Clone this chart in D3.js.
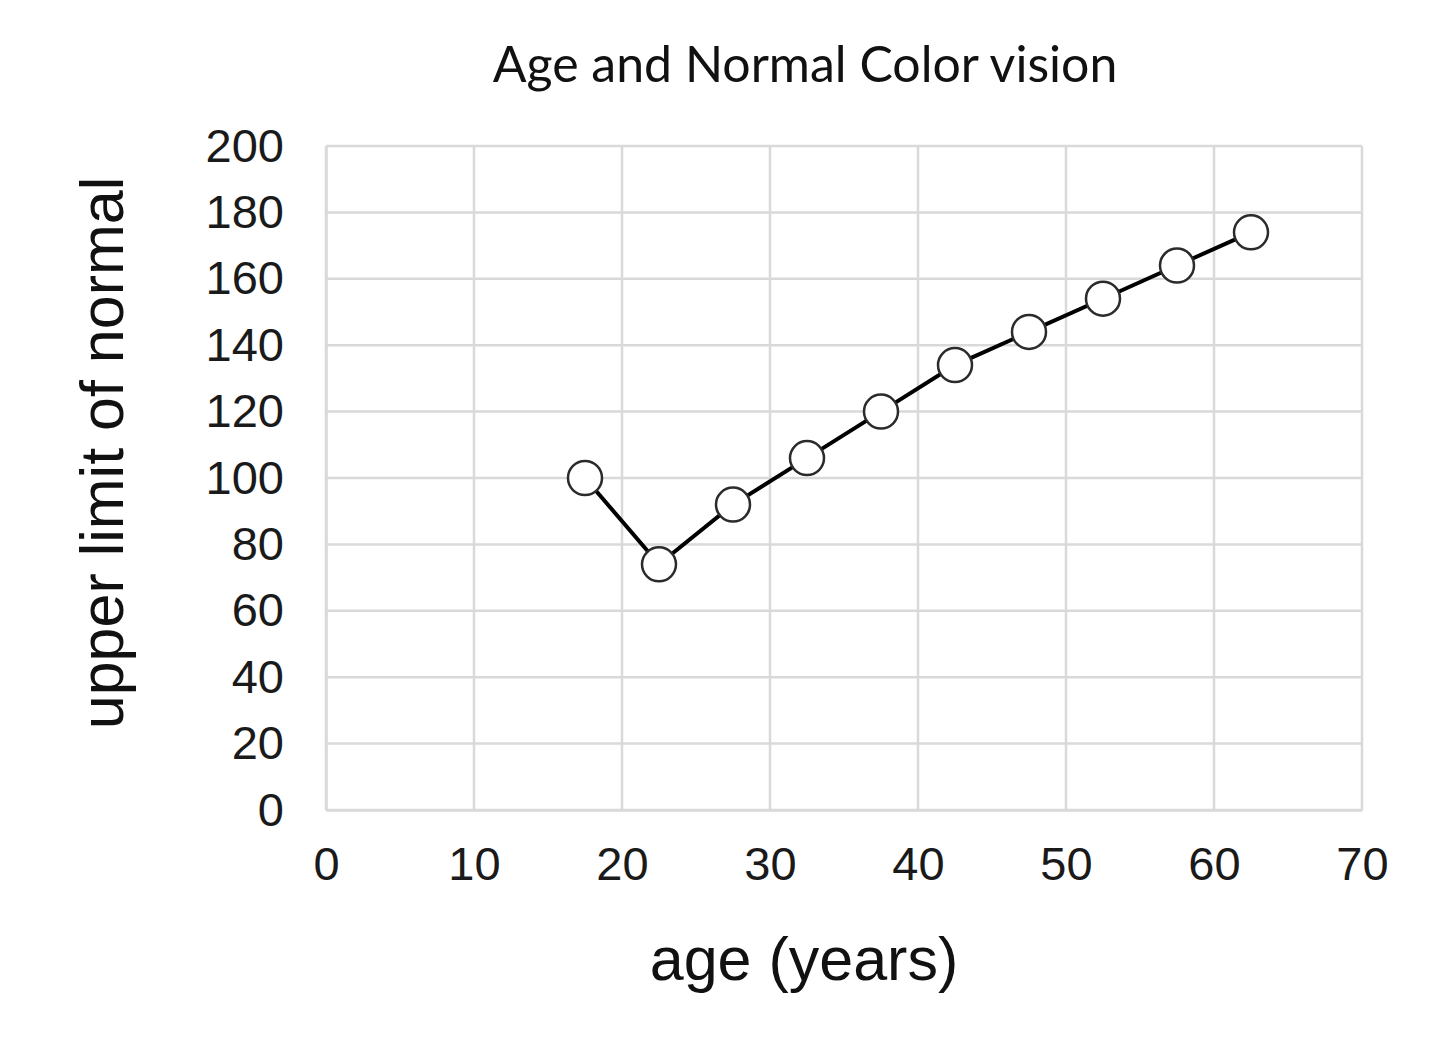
<!DOCTYPE html>
<html>
<head>
<meta charset="utf-8">
<script src="https://cdn.jsdelivr.net/npm/d3@7"></script>
<style>
  body { margin: 0; background: #fff; }
  svg { display: block; }
</style>
</head>
<body>
<svg id="chart"></svg>
<script>
const ages = [17.5, 22.5, 27.5, 32.5, 37.5, 42.5, 47.5, 52.5, 57.5, 62.5];
const upperLimit = [100, 74, 92, 106, 120, 134, 144, 154, 164, 174];
const xTicks = [0, 10, 20, 30, 40, 50, 60, 70];
const yTicks = [0, 20, 40, 60, 80, 100, 120, 140, 160, 180, 200];

const width = 1440, height = 1062;
const margin = { top: 146, right: 78, bottom: 252, left: 326 };

const svg = d3.select('#chart').attr('width', width).attr('height', height);

const x = d3.scaleLinear().domain([0, 70]).range([margin.left, width - margin.right]);
const y = d3.scaleLinear().domain([0, 200]).range([height - margin.bottom, margin.top]);

const gridColor = '#d9d9d9';

// gridlines
svg.append('g').selectAll('line')
    .data(yTicks)
    .enter()
    .append('line')
    .attr('x1', x(0)).attr('x2', x(70))
    .attr('y1', d => y(d)).attr('y2', d => y(d))
    .attr('stroke', gridColor)
    .attr('stroke-width', 2.5);

svg.append('g').selectAll('line')
    .data(xTicks)
    .enter()
    .append('line')
    .attr('x1', d => x(d)).attr('x2', d => x(d))
    .attr('y1', y(0)).attr('y2', y(200))
    .attr('stroke', gridColor)
    .attr('stroke-width', 2.5);

// axes (labels only, Excel style)
const yAxis = svg.append('g')
    .attr('transform', `translate(${x(0)},0)`)
    .call(d3.axisLeft(y).tickValues(yTicks).tickSize(0).tickPadding(42));

const xAxis = svg.append('g')
    .attr('transform', `translate(0,${y(0)})`)
    .call(d3.axisBottom(x).tickValues(xTicks).tickSize(0).tickPadding(37));

[yAxis, xAxis].forEach(a => {
    a.select('.domain').attr('stroke', gridColor).attr('stroke-width', 2.5);
    a.selectAll('text')
        .attr('font-family', '"Liberation Sans", Arial, sans-serif')
        .attr('font-size', 47)
        .attr('fill', '#1a1a1a');
});

// line
const line = d3.line()
    .x((d, i) => x(ages[i]))
    .y(d => y(d));

svg.append('path')
    .datum(upperLimit)
    .attr('d', line)
    .attr('fill', 'none')
    .attr('stroke', '#000')
    .attr('stroke-width', 4);

svg.append('g').selectAll('circle')
    .data(upperLimit)
    .enter()
    .append('circle')
    .attr('cx', (d, i) => x(ages[i]))
    .attr('cy', d => y(d))
    .attr('r', 17)
    .attr('fill', '#fff')
    .attr('stroke', '#2b2b2b')
    .attr('stroke-width', 2.5);

// titles
svg.append('text')
    .attr('x', 805)
    .attr('y', 82)
    .attr('text-anchor', 'middle')
    .attr('font-family', 'Lato, "Open Sans", sans-serif')
    .attr('font-size', 50)
    .attr('fill', '#111')
    .text('Age and Normal Color vision');

svg.append('text')
    .attr('x', 804)
    .attr('y', 980)
    .attr('text-anchor', 'middle')
    .attr('font-family', '"Liberation Sans", Arial, sans-serif')
    .attr('font-size', 61)
    .attr('fill', '#111')
    .text('age (years)');

svg.append('text')
    .attr('transform', 'translate(123,453) rotate(-90)')
    .attr('text-anchor', 'middle')
    .attr('font-family', '"Liberation Sans", Arial, sans-serif')
    .attr('font-size', 61)
    .attr('fill', '#111')
    .text('upper limit of normal');
</script>
</body>
</html>
